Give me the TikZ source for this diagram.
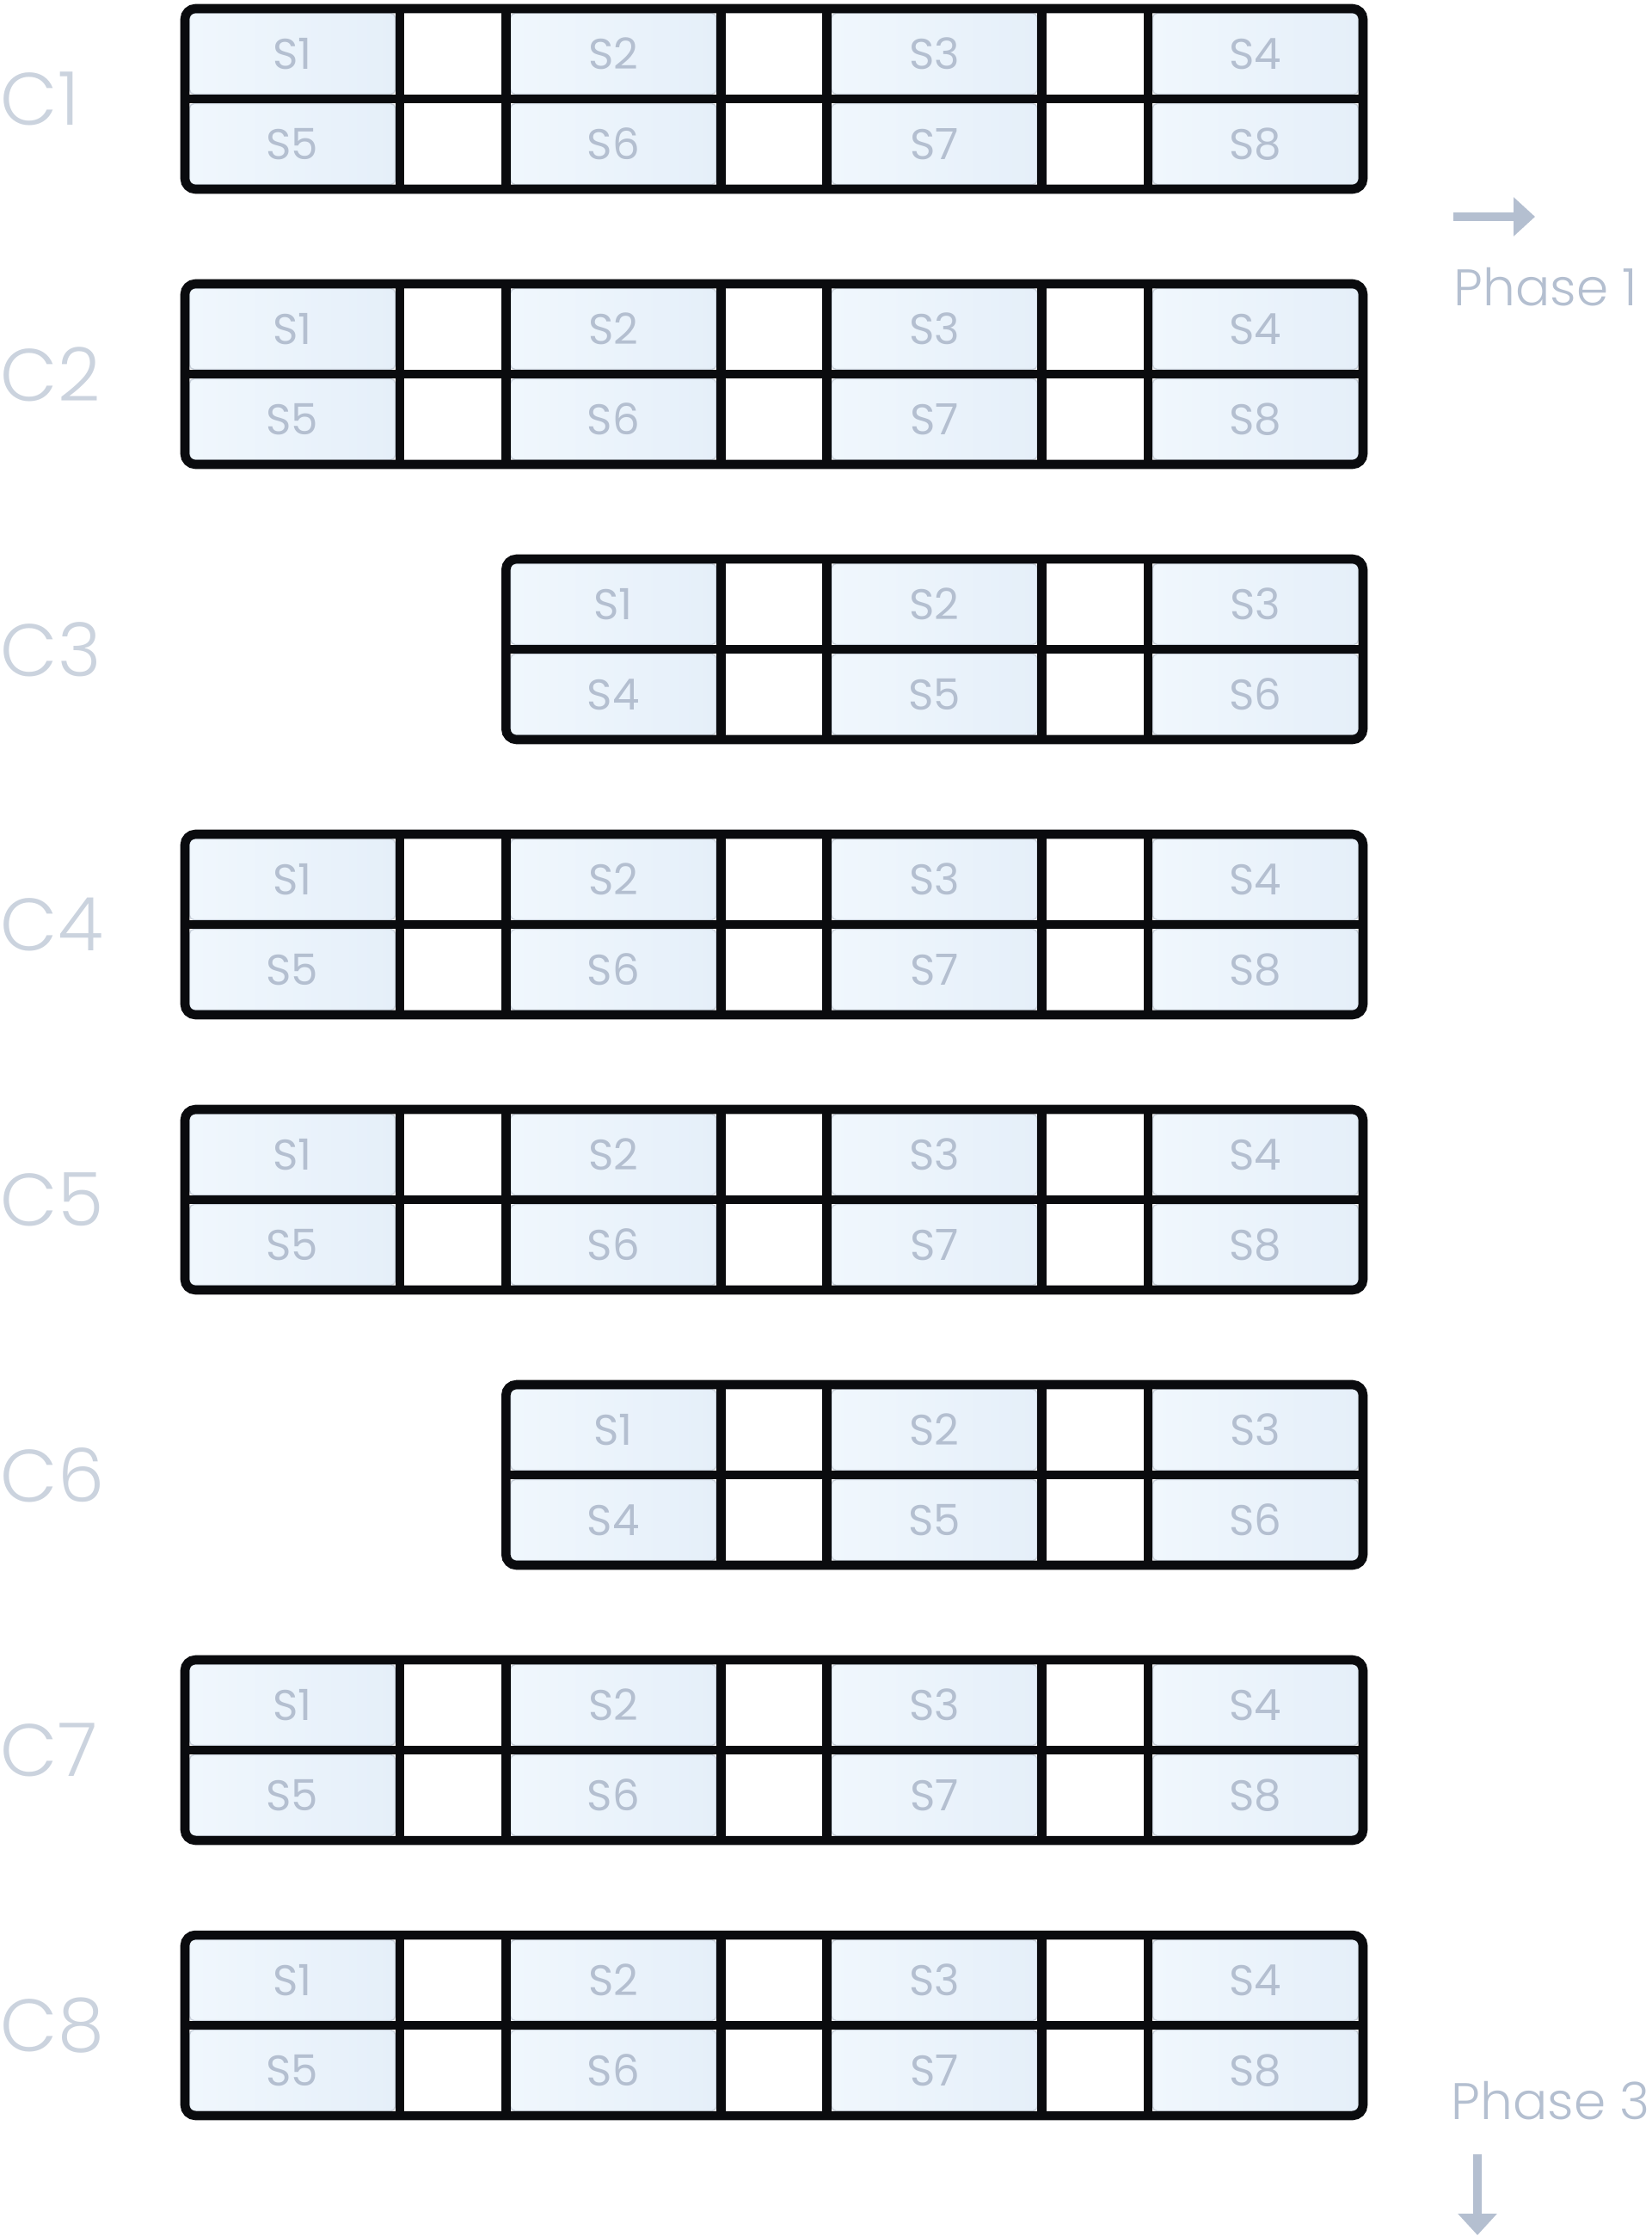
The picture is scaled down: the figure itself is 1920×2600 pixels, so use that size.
\documentclass[tikz,border=0pt]{standalone}
\usepackage{fontspec}
\setmainfont{Poppins Light}
\newfontfamily\celfont{Poppins}
\usepackage{tikz}
\usetikzlibrary{arrows.meta,positioning}
\definecolor{encre}{HTML}{0A0B0E}
\definecolor{gristxt}{HTML}{B4BFD0}
\definecolor{grislbl}{HTML}{CBD3DE}
\definecolor{bordcell}{HTML}{C9D1DB}
\definecolor{celluleA}{HTML}{F0F7FD}
\definecolor{celluleB}{HTML}{E5EFF9}

\begin{document}
\begin{tikzpicture}[x=0.01cm,y=-0.01cm,
  cadre/.style={draw=encre, line width=3pt},
  cellule/.style={draw=bordcell, line width=0.4pt, rounded corners=1.5pt, left color=celluleA, right color=celluleB, minimum width=2.39cm, minimum height=0.94cm, inner sep=0pt, text=gristxt, font=\celfont\fontsize{14.2}{14.2}\selectfont},
  rang/.style={anchor=west, inner sep=0pt, text=grislbl, font=\fontsize{24.5}{24.5}\selectfont},
  phase/.style={anchor=west, inner sep=0pt, text=gristxt, font=\fontsize{17}{17}\selectfont},
  fleche/.style={-{Triangle[length=7.1pt,width=12.5pt]}, line width=2.8pt, draw=gristxt}]
  \useasboundingbox (0,0) rectangle (1920,2600);
  % rangées C1 à C8 (décalage 1 : rangée courte)
  \foreach \r/\off in {1/0,2/0,3/1,4/0,5/0,6/1,7/0,8/0} {
    \pgfmathsetmacro{\yt}{10+320*(\r-1)}
    \pgfmathsetmacro{\ym}{\yt+105}
    \pgfmathsetmacro{\yb}{\yt+210}
    \pgfmathsetmacro{\xg}{215+373.3*\off}
    \pgfmathtruncatemacro{\n}{4-\off}
    % cases occupées
    \foreach \k in {\off,...,3} {
      \pgfmathsetmacro{\xc}{340+373.3*\k}
      \pgfmathtruncatemacro{\ih}{\k-\off+1}
      \pgfmathtruncatemacro{\ib}{\ih+\n}
      \node[cellule] (r\r h\ih) at (\xc,\yt+52.5) {S\ih};
      \node[cellule] (r\r b\ib) at (\xc,\ym+52.5) {S\ib};
    }
    % cadre et séparations
    \draw[cadre] (\xg,\ym) -- (1585,\ym);
    \foreach \k in {\off,...,2} {
      \draw[cadre] (465+373.3*\k,\yt) -- (465+373.3*\k,\yb);
      \draw[cadre] (588.3+373.3*\k,\yt) -- (588.3+373.3*\k,\yb);
    }
    \draw[cadre, rounded corners=3.5pt] (\xg,\yt) rectangle (1585,\yb);
    \node[rang] (C\r) at (0,\ym) {C\r};
  }
  % phases
  \coordinate (p1a) at (1690,252);
  \coordinate (p1b) at (1785,252);
  \draw[fleche] (p1a) -- (p1b);
  \node[phase] (ph1) at (1690,334) {Phase 1};
  \node[phase] (ph3) at (1687,2443) {Phase 3};
  \coordinate (p3a) at (1718,2505);
  \coordinate (p3b) at (1718,2599);
  \draw[fleche] (p3a) -- (p3b);
\end{tikzpicture}
\end{document}
